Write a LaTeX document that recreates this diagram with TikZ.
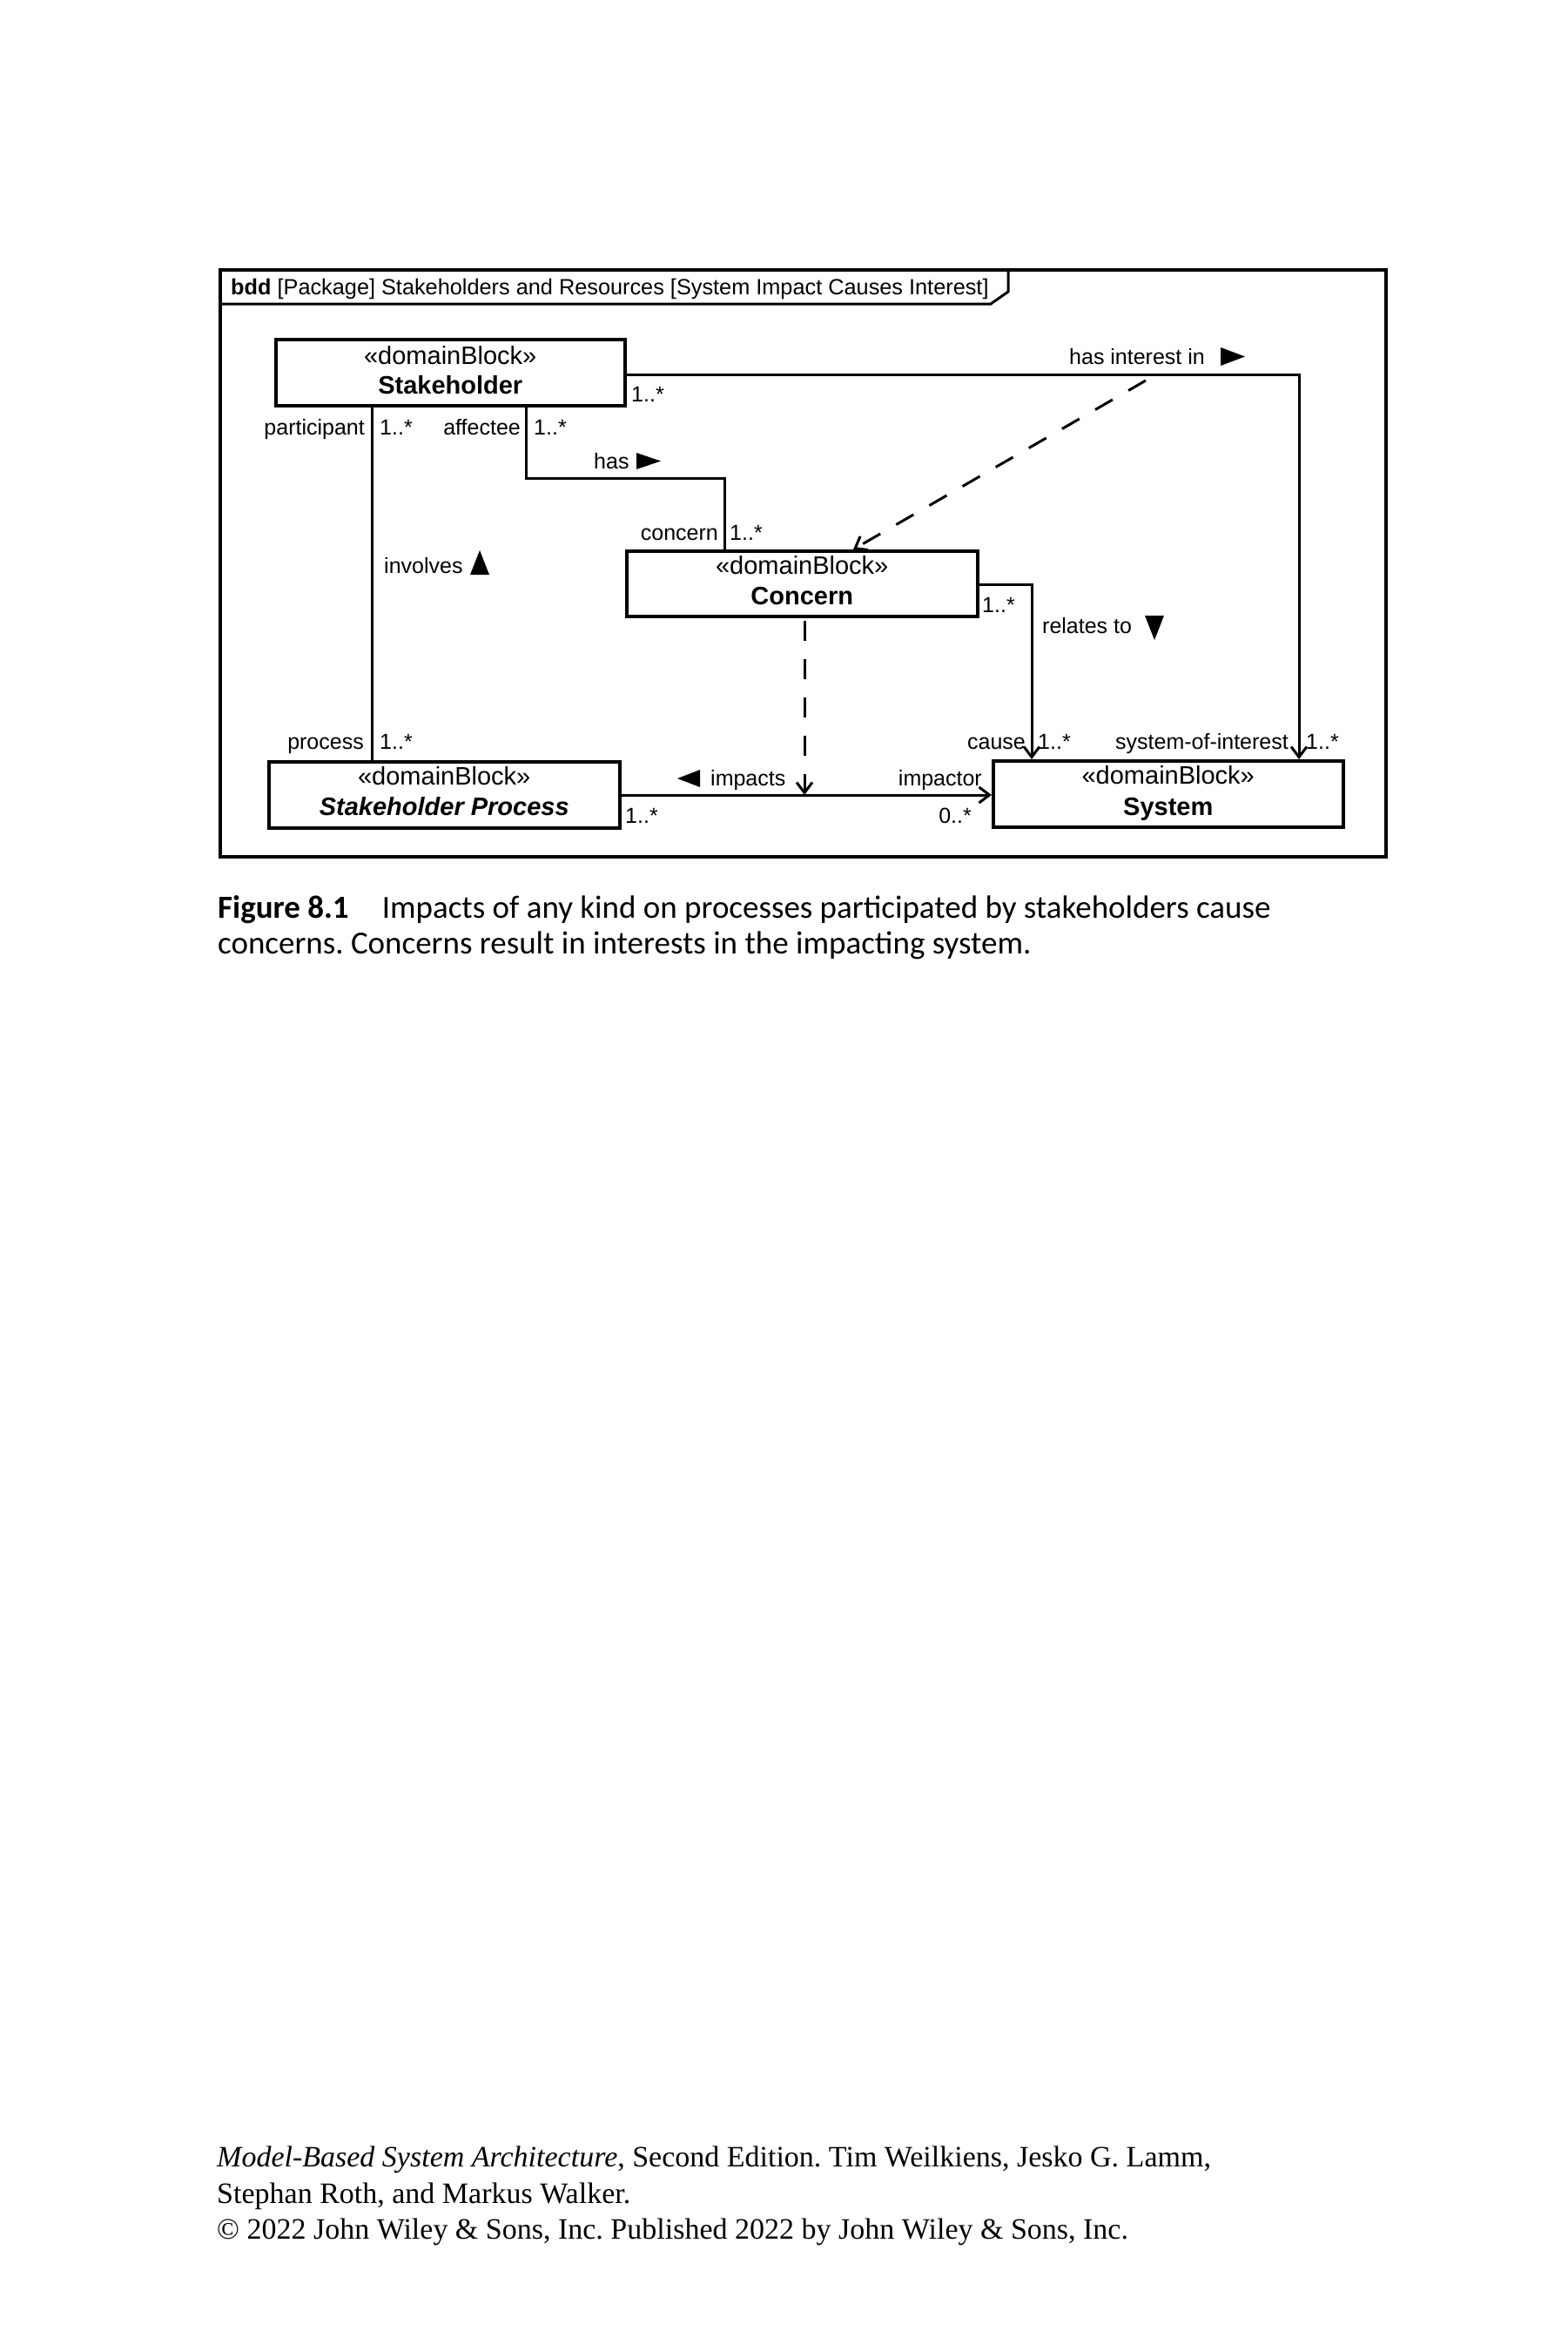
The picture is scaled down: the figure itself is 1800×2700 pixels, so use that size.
\documentclass[tikz,border=0pt]{standalone}
\usepackage{fontspec}
\setmainfont{Liberation Serif}
\newfontfamily\diag{Liberation Sans}
\newfontfamily\capfont{Carlito}
\usetikzlibrary{arrows.meta,calc}
\frenchspacing
\begin{document}
\begin{tikzpicture}[x=1pt,y=-1pt,
  block/.style={draw, line width=3.5pt, inner sep=0pt, minimum width=#1, minimum height=76pt, anchor=north west},
  btxt/.style={font=\diag\fontsize{29}{34}\selectfont, inner sep=0pt, anchor=base},
  bname/.style={font=\diag\bfseries\fontsize{29}{34}\selectfont, inner sep=0pt, anchor=base},
  lbl/.style={font=\diag\fontsize{25}{30}\selectfont, inner sep=0pt},
  conn/.style={line width=3pt},
  tip/.style={-{Straight Barb[length=12pt,width=18pt]}},
  dep/.style={line width=3pt, dash pattern=on 23pt off 21pt},
  tri/.style={fill=black},
  captxt/.style={font=\capfont\fontsize{37}{44}\selectfont, inner sep=0pt, anchor=base west},
  foot/.style={font=\fontsize{34}{42}\selectfont, inner sep=0pt, anchor=base west}
]
\fill[white] (0,0) rectangle (1800,2700);
\useasboundingbox (0,0) rectangle (1800,2700);

% frame
\node[draw, line width=3.5pt, inner sep=0pt, minimum width=1339pt, minimum height=674pt, anchor=north west] (frame) at (251,308) {};
\draw[line width=3pt] (251,349) -- (1138,349) -- (1158,335) -- (1158,308);
\node[lbl, font=\diag\fontsize{25.3}{30}\selectfont, anchor=base west] (title) at (265,338) {\textbf{bdd} [Package] Stakeholders and Resources [System Impact Causes Interest]};

% blocks
\node[block=401pt] (sh) at (315,388) {};
\node[block=403pt, minimum height=75pt] (co) at (718,631) {};
\node[block=403pt] (sp) at (307,873) {};
\node[block=402pt] (sy) at (1139,872) {};

\node[btxt] (sh1) at ($(sh.north)+(0,30)$) {«domainBlock»};
\node[bname] (sh2) at ($(sh.north)+(0,64)$) {Stakeholder};
\node[btxt] (co1) at ($(co.north)+(0,28)$) {«domainBlock»};
\node[bname] (co2) at ($(co.north)+(0,63)$) {Concern};
\node[btxt] (sp1) at ($(sp.north)+(0,28)$) {«domainBlock»};
\node[bname, font=\diag\bfseries\itshape\fontsize{29}{34}\selectfont] (sp2) at ($(sp.north)+(0,63)$) {Stakeholder Process};
\node[btxt] (sy1) at ($(sy.north)+(0,28)$) {«domainBlock»};
\node[bname] (sy2) at ($(sy.north)+(0,64)$) {System};

% routing coordinates
\coordinate (px) at (427,0);
\coordinate (ax) at (604,0);
\coordinate (ay) at (0,549);
\coordinate (cx) at (832,0);
\coordinate (hx) at (1492,0);
\coordinate (hy) at (0,430);
\coordinate (rx) at (1185,0);
\coordinate (ry) at (0,671);
\coordinate (iy) at (0,913);
\coordinate (dx) at (924,0);
\coordinate (ds) at (1316,437);
\coordinate (dt) at (980,0);

% connectors
\draw[conn] (sh.south -| px) -- (sp.north -| px);
\draw[conn] (sh.south -| ax) -- (ax |- ay) -- (cx |- ay) -- (co.north -| cx);
\draw[conn,tip] (sh.east |- hy) -- (hx |- hy) -- (sy.north -| hx);
\draw[dep,tip] (ds) -- (co.north -| dt);
\draw[conn,tip] (co.east |- ry) -- (rx |- ry) -- (sy.north -| rx);
\draw[conn,tip] (sp.east |- iy) -- (sy.west |- iy);
\draw[dep,tip] ($(co.south -| dx)+(0,3)$) -- (dx |- iy);

% direction triangles
\fill[tri] (731,520) -- (731,539) -- (759,529.5) -- cycle;
\fill[tri] (540,660) -- (562,660) -- (551,632) -- cycle;
\fill[tri] (1402,399) -- (1402,420) -- (1430,409.5) -- cycle;
\fill[tri] (1315,707) -- (1337,707) -- (1326,735) -- cycle;
\fill[tri] (804,884) -- (804,904) -- (778,894) -- cycle;

% labels
\node[lbl, anchor=base east] (l1) at (419,499) {participant};
\node[lbl, anchor=base west] (l2) at (436,499) {1..*};
\node[lbl, anchor=base east] (l3) at (598,499) {affectee};
\node[lbl, anchor=base west] (l4) at (613,499) {1..*};
\node[lbl, anchor=base west] (l5) at (682,538) {has};
\node[lbl, anchor=base east] (l6) at (825,620) {concern};
\node[lbl, anchor=base west] (l7) at (838,620) {1..*};
\node[lbl, anchor=base west] (l8) at (441,658) {involves};
\node[lbl, anchor=base west] (l9) at (725,461) {1..*};
\node[lbl, anchor=base west] (l10) at (1228,418) {has interest in};
\node[lbl, anchor=base west] (l11) at (1128,703) {1..*};
\node[lbl, anchor=base west] (l12) at (1197,727) {relates to};
\node[lbl, anchor=base east] (l13) at (418,860) {process};
\node[lbl, anchor=base west] (l14) at (436,860) {1..*};
\node[lbl, anchor=base east] (l15) at (1178,860) {cause};
\node[lbl, anchor=base west] (l16) at (1192,860) {1..*};
\node[lbl, anchor=base east] (l17) at (1480,860) {system-of-interest};
\node[lbl, anchor=base west] (l18) at (1500,860) {1..*};
\node[lbl, anchor=base west] (l19) at (816,902) {impacts};
\node[lbl, anchor=base east] (l20) at (1128,902) {impactor};
\node[lbl, anchor=base west] (l21) at (718,945) {1..*};
\node[lbl, anchor=base east] (l22) at (1116,945) {0..*};

% caption
\node[captxt] (cap1) at (250,1054) {\textbf{Figure 8.1}\hspace{38pt}Impacts of any kind on processes participated by stakeholders cause};
\node[captxt] (cap2) at (250,1095) {concerns. Concerns result in interests in the impacting system.};

% footer
\node[foot] (f1) at (249,2488) {\textit{Model-Based System Architecture}, Second Edition. Tim Weilkiens, Jesko G. Lamm,};
\node[foot] (f2) at (249,2530) {Stephan Roth, and Markus Walker.};
\node[foot] (f3) at (249,2571) {© 2022 John Wiley \& Sons, Inc. Published 2022 by John Wiley \& Sons, Inc.};
\end{tikzpicture}
\end{document}
